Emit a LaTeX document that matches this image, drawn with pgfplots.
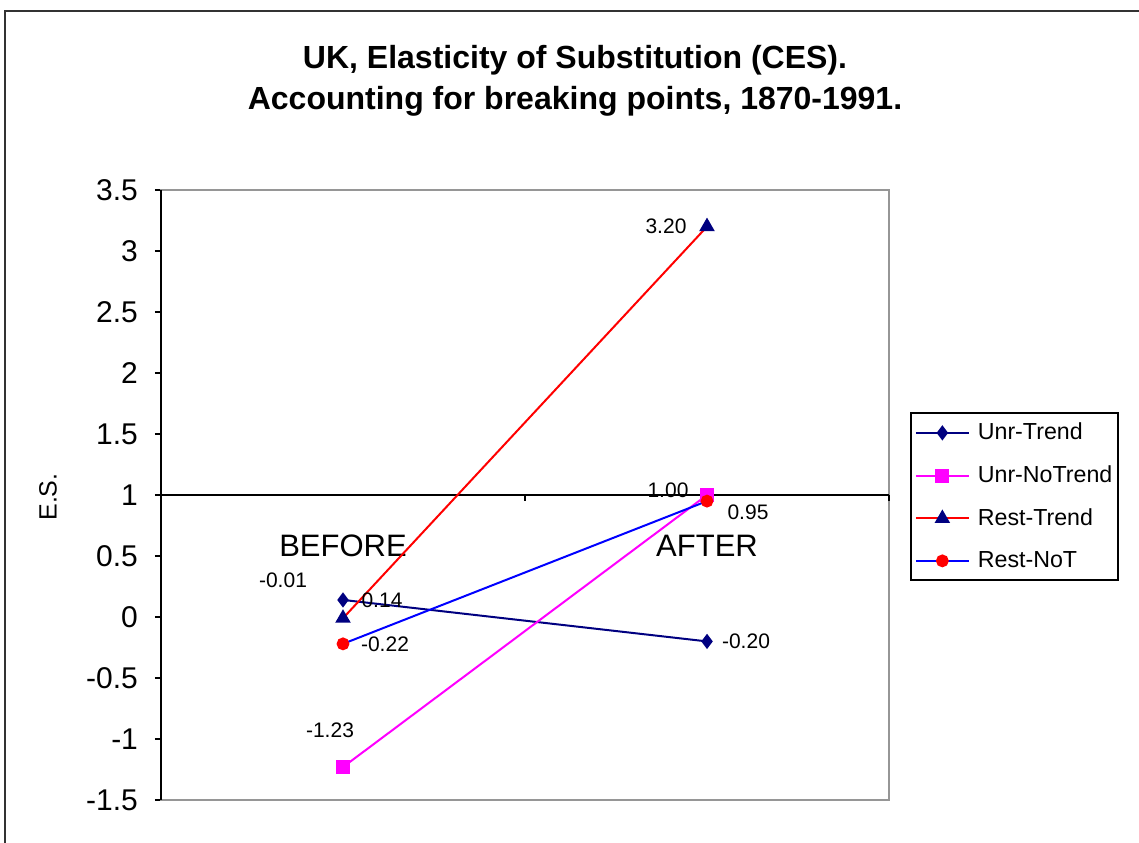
\documentclass[border=0pt]{standalone}
\usepackage{pgfplots}
\pgfplotsset{compat=1.18}
\usepackage{fontspec}
\setmainfont{Liberation Sans}

\definecolor{navyb}{RGB}{0,0,128}
\definecolor{magb}{RGB}{255,0,255}
\definecolor{framegray}{RGB}{150,150,150}

\begin{document}
\begin{tikzpicture}
\useasboundingbox (-80.5pt,-21pt) rectangle (489pt,400pt);
% outer chart frame
\draw[black!80, line width=1.4pt] (-78pt,-40pt) -- (-78pt,394.5pt) -- (500pt,394.5pt);
% title and y label
\node[font=\fontsize{16}{20.5}\selectfont\bfseries, align=center] at (207pt,359.75pt)
  {UK, Elasticity of Substitution (CES).\\Accounting for breaking points, 1870-1991.};
\node[rotate=90, font=\fontsize{12.5}{15}\selectfont] at (-56.5pt,151.5pt) {E.S.};

\begin{axis}[
  at={(0pt,0pt)}, anchor=south west,
  scale only axis, width=364pt, height=305pt,
  xmin=-0.5, xmax=1.5, ymin=-1.5, ymax=3.5,
  clip=false,
  axis line style={draw=framegray, line width=1pt},
  xtick={0,1}, xticklabels={BEFORE,AFTER},
  xtick style={draw=none},
  xticklabel style={font=\fontsize{15.5}{18}\selectfont, anchor=center, yshift=130pt},
  ytick={-1.5,-1,-0.5,0,0.5,1,1.5,2,2.5,3,3.5},
  yticklabels={-1.5,-1,-0.5,0,0.5,1,1.5,2,2.5,3,3.5},
  ytick pos=left,
  ytick style={draw=black, line width=0.9pt},
  tick align=outside, major tick length=3pt,
  yticklabel style={font=\fontsize{15}{18}\selectfont, xshift=-5pt},
  legend style={at={(1.0288,0.636)}, anchor=north west, draw=black, line width=0.9pt,
    font=\fontsize{11.6}{14}\selectfont, row sep=9.5pt, column sep=3pt,
    inner xsep=2pt, inner ysep=4pt, nodes={inner sep=1pt}},
  legend cell align=left,
  legend image code/.code={\draw[mark repeat=2,mark phase=2,#1]
    plot coordinates {(0pt,0pt) (13.25pt,0pt) (26.5pt,0pt)};},
  nodes near coords,
  point meta=explicit symbolic,
  visualization depends on={\thisrow{dx} \as \lbldx},
  visualization depends on={\thisrow{dy} \as \lbldy},
  every node near coord/.append style={anchor=center, xshift=\lbldx pt, yshift=\lbldy pt,
    font=\fontsize{10.5}{12}\selectfont, text=black},
]
% left axis and the category axis crossing at 1
\draw[black, line width=1pt] (axis cs:-0.5,-1.5) -- (axis cs:-0.5,3.5);
\draw[black, line width=1pt] (axis cs:-0.5,1) -- (axis cs:1.5,1);
\draw[black, line width=0.9pt] (axis cs:0.5,1) -- ([yshift=-3pt]axis cs:0.5,1);
\draw[black, line width=0.9pt] (axis cs:1.5,1) -- ([yshift=-3pt]axis cs:1.5,1);

\addplot[navyb, line width=1pt, mark=diamond*, mark size=3pt, mark options={fill=navyb}]
  table[meta=lbl] {
x y lbl dx dy
0 0.14 0.14 19.5 0
1 -0.20 -0.20 19.5 0
};
\addlegendentry{Unr-Trend}

\addplot[magb, line width=1pt, mark=square*, mark size=3pt, mark options={fill=magb}]
  table[meta=lbl] {
x y lbl dx dy
0 -1.23 -1.23 -6.5 18.5
1 1.00 1.00 -19.5 2.5
};
\addlegendentry{Unr-NoTrend}

\addplot[red, line width=1pt, mark=triangle*, mark size=3.5pt, mark options={fill=navyb, draw=navyb}]
  table[meta=lbl] {
x y lbl dx dy
0 -0.01 -0.01 -30 19
1 3.20 3.20 -20.5 0
};
\addlegendentry{Rest-Trend}

\addplot[blue, line width=1pt, mark=*, mark size=2.7pt, mark options={fill=red, draw=red}]
  table[meta=lbl] {
x y lbl dx dy
0 -0.22 -0.22 21 0
1 0.95 0.95 20.5 -5.5
};
\addlegendentry{Rest-NoT}
\end{axis}
\end{tikzpicture}
\end{document}
